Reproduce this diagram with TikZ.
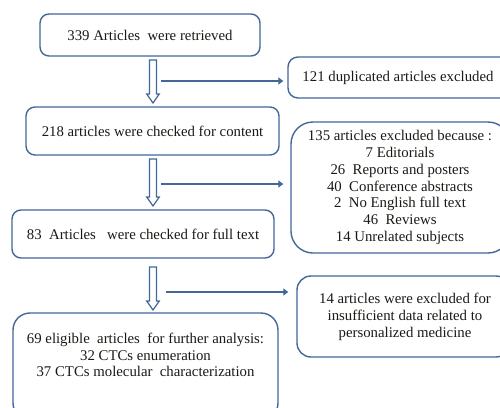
\documentclass[tikz,border=0pt]{standalone}
\usepackage{fontspec}
\setmainfont{Liberation Serif}
\usetikzlibrary{calc,arrows.meta}
\definecolor{bord}{RGB}{66,103,152}
\definecolor{txt}{RGB}{28,24,20}
\tikzset{
  box/.style={draw=bord, line width=1.4pt, rounded corners=#1, inner sep=0pt, text=txt, align=center,
    font=\fontsize{14.8}{16.8}\selectfont},
  box/.default=9pt,
  lbl/.style={text=txt, align=center, inner sep=0pt, font=\fontsize{14.8}{16.8}\selectfont},
  hollow/.style={draw=bord, line width=1.2pt, fill=white, line join=miter},
  side/.style={draw=bord, line width=2.8pt, -{Triangle[length=5pt,width=7pt]}}
}
\newcommand{\hollowarr}[2]{%
  \draw[hollow] ($(#1)+(-3.5,0)$) -- ($(#2)+(-3.5,-9)$) -- ($(#2)+(-6.3,-9)$) -- (#2)
    -- ($(#2)+(6.3,-9)$) -- ($(#2)+(3.5,-9)$) -- ($(#1)+(3.5,0)$) -- cycle;}
\begin{document}
\begin{tikzpicture}[x=1pt,y=-1pt]
\useasboundingbox (0,0) rectangle (500,407);
\clip (0,0) rectangle (500,407);
% main column
\node[box, minimum width=220pt, minimum height=42pt] (b1) at (150,35) {339 Articles\ \ were retrieved};
\node[box, minimum width=253pt, minimum height=48pt] (b2) at (152.5,131) {218 articles were checked for content};
\node[box, minimum width=262pt, minimum height=48pt] (b3) at (143,234) {83\ \ Articles\ \ \ were checked for full text};
\node[box=17pt, minimum width=265pt, minimum height=107pt] (b4) at (145.5,366.5) {};
\node[lbl] (b4t) at (145.5,355) {69 eligible\ \ articles\ \ for further\ analysis:\\32 CTCs enumeration\\37 CTCs molecular\ \ characterization};
% side column
\node[box=10pt, minimum width=222pt, minimum height=41pt] (s1) at (399,77.5) {121 duplicated articles excluded\hspace{2pt}};
\node[box=22pt, minimum width=219pt, minimum height=131pt] (s2) at (400.5,187.5) {};
\node[lbl] (s2t) at (400,187.5) {135 articles excluded because :\\7 Editorials\\26\ \ Reports and posters\\40\ \ Conference abstracts\\2\ \ No English full text\\46\ \ Reviews\\14 Unrelated subjects};
\node[box=14pt, minimum width=213pt, minimum height=81pt] (s3) at (403.5,316.5) {};
\node[lbl] (s3t) at (405,317) {14 articles were excluded for\\insufficient data related to\\personalized medicine};
% hollow down arrows
\coordinate (d1s) at (153,60);  \coordinate (d1e) at (153,103);
\coordinate (d2s) at (153,159); \coordinate (d2e) at (153,206);
\coordinate (d3s) at (153,267); \coordinate (d3e) at (153,310);
\hollowarr{d1s}{d1e}
\hollowarr{d2s}{d2e}
\hollowarr{d3s}{d3e}
% side arrows
\coordinate (h1) at (161,81);
\coordinate (h2) at (161,184);
\coordinate (h3) at (166,292);
\draw[side, shorten >=4pt] (h1) -- (h1 -| s1.west);
\draw[side, shorten >=7pt] (h2) -- (h2 -| s2.west);
\draw[side, shorten >=8pt] (h3) -- (h3 -| s3.west);
\end{tikzpicture}
\end{document}
